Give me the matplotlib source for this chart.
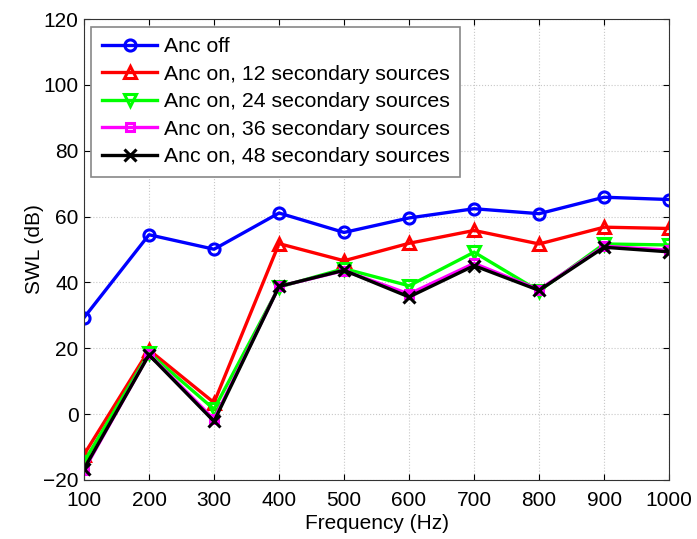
import matplotlib
matplotlib.use("Agg")
import matplotlib.pyplot as plt

plt.rcParams['font.family'] = ['Liberation Sans', 'DejaVu Sans']

freq = [100, 200, 300, 400, 500, 600, 700, 800, 900, 1000]
anc_off = [29.3, 54.5, 50.1, 61.1, 55.2, 59.6, 62.4, 60.9, 65.9, 65.2]
anc_12 = [-12.3, 19.5, 3.5, 51.8, 46.6, 51.9, 55.8, 51.7, 56.8, 56.4]
anc_24 = [-14.5, 18.6, 1.5, 38.6, 44.2, 39.0, 49.2, 37.4, 51.7, 51.4]
anc_36 = [-17.0, 18.2, -1.6, 38.8, 43.6, 36.5, 45.8, 37.8, 51.0, 49.8]
anc_48 = [-16.6, 18.0, -2.2, 38.8, 43.7, 35.6, 45.1, 37.6, 50.7, 49.3]

labels = ['Anc off', 'Anc on, 12 secondary sources', 'Anc on, 24 secondary sources',
          'Anc on, 36 secondary sources', 'Anc on, 48 secondary sources']
colors = ['#0000ff', '#ff0000', '#00ff00', '#ff00ff', '#000000']
markers = ['o', '^', 'v', 's', 'x']

fig = plt.figure(figsize=(6.97, 5.39), dpi=100)
ax = fig.add_axes([0.1205, 0.1095, 0.8395, 0.855])

series = [anc_off, anc_12, anc_24, anc_36, anc_48]
for vals, lab, col, mk in zip(series, labels, colors, markers):
    ms = 6 if mk == 's' else 8
    ax.plot(freq, vals, color=col, marker=mk, markersize=ms, markerfacecolor='none',
            markeredgewidth=2.2, linewidth=2.4, label=lab)

ax.set_xlim(100, 1000)
ax.set_ylim(-20, 120)
ax.set_xticks(freq)
ax.set_yticks(range(-20, 121, 20))
ax.tick_params(direction='in', labelsize=15, length=4, top=True, right=True)
ax.tick_params(axis='x', pad=8)
ax.tick_params(axis='y', pad=4)
ax.grid(True, linestyle=':', color='#c8c8c8', linewidth=0.8)
ax.set_xlabel('Frequency (Hz)', fontsize=15, labelpad=3)
ax.set_ylabel('SWL (dB)', fontsize=15, labelpad=-1)
for sp in ax.spines.values():
    sp.set_color('#333333')

leg = ax.legend(loc='upper left', fontsize=15.3, fancybox=False, framealpha=1,
                edgecolor='#888888', borderpad=0.5, labelspacing=0.4,
                handlelength=2.6, handletextpad=0.3, borderaxespad=0.35)
leg.get_frame().set_linewidth(1.2)

fig.savefig('out.png', dpi=100)
